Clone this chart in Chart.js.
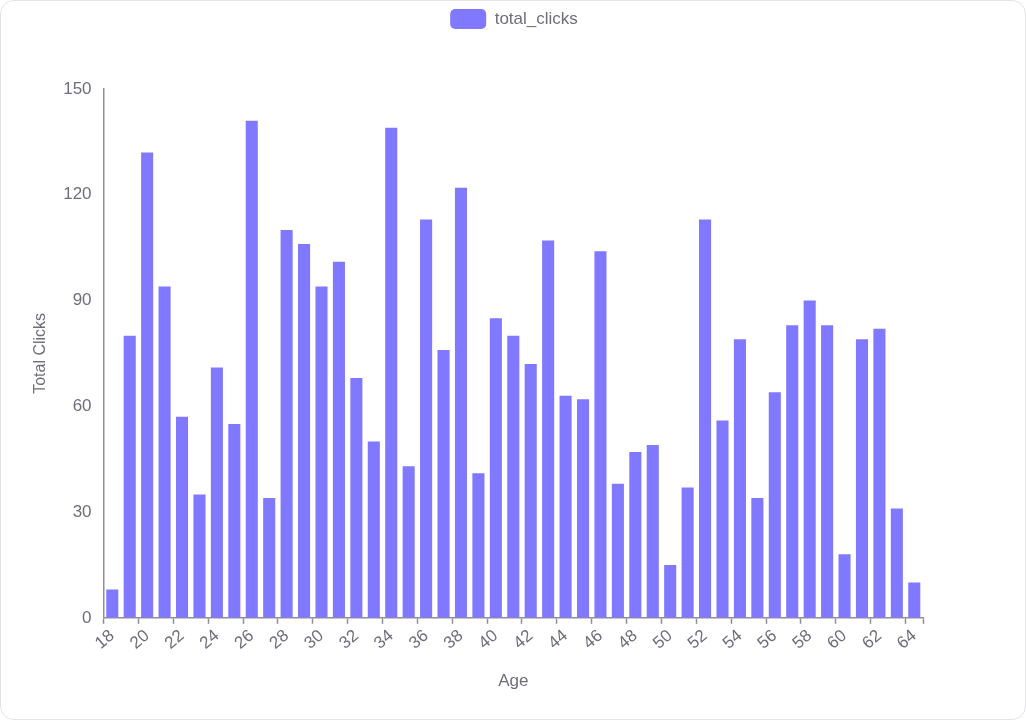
<!DOCTYPE html>
<html>
<head>
<meta charset="utf-8">
<script src="https://cdn.jsdelivr.net/npm/chart.js@4"></script>
<style>
  html, body { margin: 0; padding: 0; background: #ffffff; }
  #card { position: relative; width: 1026px; height: 720px; box-sizing: border-box; border: 1px solid #e4e4e7; border-radius: 14px; background: #fff; overflow: hidden; }
  #c { position: absolute; left: 0; top: 0; }
</style>
</head>
<body>
<div id="card"><canvas id="c" width="1026" height="720"></canvas></div>
<script>
const ages = ['18','19','20','21','22','23','24','25','26','27','28','29','30','31','32','33','34','35','36','37','38','39','40','41','42','43','44','45','46','47','48','49','50','51','52','53','54','55','56','57','58','59','60','61','62','63','64'];
const totalClicks = [8,80,132,94,57,35,71,55,141,34,110,106,94,101,68,50,139,43,113,76,122,41,85,80,72,107,63,62,104,38,47,49,15,37,113,56,79,34,64,83,90,83,18,79,82,31,10];
const yTicks = [0, 30, 60, 90, 120, 150];

const textColor = '#6e6e7a';
const axisColor = '#8f8f98';
const barColor = '#8078ff';
const FONT = '"Liberation Sans", Arial, sans-serif';

const legendMargin = {
  id: 'legendMargin',
  beforeInit(chart) {
    const orig = chart.legend.fit;
    chart.legend.fit = function fit() {
      orig.bind(chart.legend)();
      this.height += 50;
    };
  }
};

new Chart(document.getElementById('c'), {
  type: 'bar',
  data: {
    labels: ages,
    datasets: [{
      label: 'total_clicks',
      data: totalClicks,
      backgroundColor: barColor,
      borderWidth: 0,
      barPercentage: 0.9,
      categoryPercentage: 0.77
    }]
  },
  plugins: [legendMargin],
  options: {
    responsive: false,
    animation: false,
    devicePixelRatio: 1,
    layout: { padding: { left: 0, right: 0, top: 0, bottom: 25 } },
    plugins: {
      tooltip: { enabled: false },
      legend: {
        position: 'top',
        labels: {
          boxWidth: 36,
          boxHeight: 20,
          padding: 8,
          useBorderRadius: true,
          borderRadius: 5,
          color: textColor,
          font: { family: FONT, size: 17 }
        }
      }
    },
    scales: {
      x: {
        offset: true,
        grid: {
          offset: true,
          display: true,
          drawOnChartArea: false,
          drawTicks: true,
          tickLength: 6,
          tickWidth: 1.5,
          tickColor: (ctx) => (ctx.index !== undefined && ctx.index % 2 === 1) ? 'rgba(0,0,0,0)' : axisColor
        },
        border: { display: true, color: axisColor, width: 1.5 },
        ticks: {
          autoSkip: false,
          minRotation: 40,
          maxRotation: 40,
          padding: 2,
          color: textColor,
          font: { family: FONT, size: 17 },
          callback: function (value, index) { return index % 2 === 0 ? ages[index] : ''; }
        },
        title: {
          display: true,
          text: 'Age',
          color: textColor,
          font: { family: FONT, size: 17 },
          padding: { top: 16, bottom: 4 }
        }
      },
      y: {
        min: yTicks[0],
        max: yTicks[yTicks.length - 1],
        afterBuildTicks: (scale) => { scale.ticks = yTicks.map(v => ({ value: v })); },
        grid: { display: false, drawTicks: false },
        border: { display: true, color: axisColor, width: 1.5 },
        ticks: {
          padding: 12,
          color: textColor,
          font: { family: FONT, size: 17 }
        },
        title: {
          display: true,
          text: 'Total Clicks',
          color: textColor,
          font: { family: FONT, size: 16 },
          padding: { top: 30, bottom: 1 }
        }
      },
      yR: {
        position: 'right',
        display: true,
        grid: { display: false, drawTicks: false },
        border: { display: false },
        ticks: { display: false },
        afterFit: (scale) => { scale.width = 104; }
      }
    }
  }
});
</script>
</body>
</html>
